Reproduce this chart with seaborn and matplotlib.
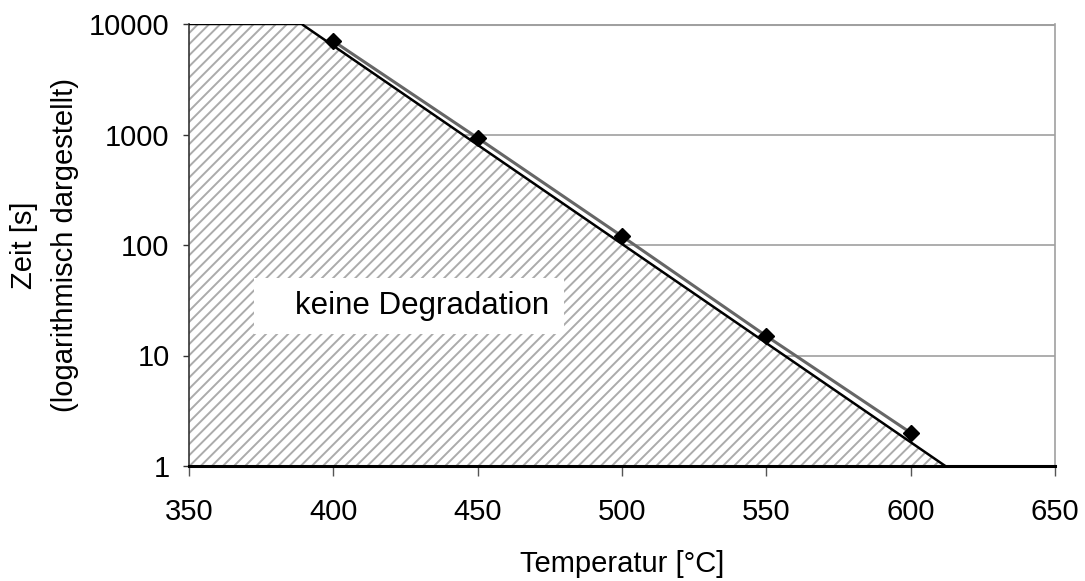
import matplotlib
matplotlib.use("Agg")
import matplotlib.pyplot as plt
import seaborn as sns
import pandas as pd
from matplotlib.patches import Rectangle

# Data
temperature = [400, 450, 500, 550, 600]
time_s = [7000, 930, 120, 15, 2]

boundary_T = [350, 389, 612]
boundary_t = [10000, 10000, 1]

y_ticks = [1, 10, 100, 1000, 10000]
y_tick_labels = ["1", "10", "100", "1000", "10000"]
x_ticks = [350, 400, 450, 500, 550, 600, 650]

sns.set_theme(style="white")
plt.rcParams["font.family"] = ["Liberation Sans", "DejaVu Sans"]
plt.rcParams["hatch.color"] = "#ababab"
plt.rcParams["hatch.linewidth"] = 1.4

fig = plt.figure(figsize=(10.85, 5.81), dpi=100)
ax = fig.add_axes([189 / 1085, 1 - 466 / 581, 866 / 1085, 442 / 581])

ax.set_yscale("log")
ax.set_xlim(350, 650)
ax.set_ylim(1, 10000)

# gridlines
for yv in y_ticks[1:]:
    ax.axhline(yv, color="#a0a0a0", lw=1.2 if yv < 10000 else 2.2, zorder=0)

# hatched region
ax.fill_between(boundary_T, 1, boundary_t, facecolor="white", edgecolor="#ababab",
                hatch="///", linewidth=0, zorder=1)

df_data = pd.DataFrame({"T": temperature, "t": time_s})
df_b = pd.DataFrame({"T": boundary_T, "t": boundary_t})

sns.lineplot(data=df_data, x="T", y="t", ax=ax, color="#666666", lw=2.2, zorder=3,
             sort=False)
sns.lineplot(data=df_b, x="T", y="t", ax=ax, color="black", lw=1.8, zorder=4,
             sort=False)
ax.plot(temperature, time_s, linestyle="none", marker="D", markersize=8.5,
        color="black", zorder=5)

# text box
ax.add_patch(Rectangle((0.075, 0.2986), 0.3585, 0.1264, transform=ax.transAxes,
                       facecolor="white", edgecolor="none", zorder=6))
ax.text(0.269, 0.362, "keine Degradation", transform=ax.transAxes, ha="center",
        va="center", fontsize=22.5, color="black", zorder=7)

# axes styling
ax.spines["right"].set_color("#a0a0a0")
ax.spines["right"].set_linewidth(1.2)
ax.spines["left"].set_color("#333333")
ax.spines["left"].set_linewidth(1.2)
ax.spines["bottom"].set_color("black")
ax.spines["bottom"].set_linewidth(2.2)
ax.spines["top"].set_visible(False)

ax.set_yticks(y_ticks)
ax.set_yticklabels(y_tick_labels)
ax.yaxis.set_minor_locator(matplotlib.ticker.NullLocator())
ax.set_xticks(x_ticks)
ax.tick_params(axis="y", direction="out", length=4, width=1, color="#333333",
               labelsize=21, pad=10, left=True, labelcolor="black")
ax.tick_params(axis="x", direction="out", length=7, width=1, color="#555555",
               labelsize=21, pad=16, bottom=True, labelcolor="black")

ax.set_xlabel("Temperatur [°C]", fontsize=21, labelpad=17, color="black")
ax.set_ylabel("Zeit [s]\n(logarithmisch dargestellt)", fontsize=21, labelpad=7,
              linespacing=1.6, color="black")

fig.savefig("out.png", dpi=100)
